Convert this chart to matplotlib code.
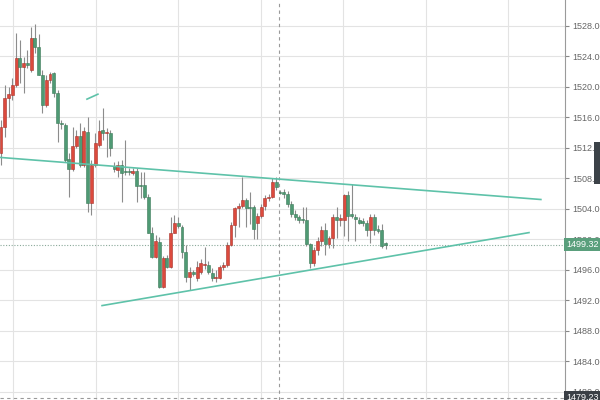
import numpy as np
import matplotlib
matplotlib.use("Agg")
import matplotlib.pyplot as plt
from matplotlib.patches import Rectangle
import matplotlib.transforms as mtransforms

plt.rcParams["font.family"] = ["Liberation Sans", "DejaVu Sans"]

# OHLC per candle
opens = [1511.3, 1514.8, 1518.6, 1519.0, 1520.3, 1523.8, 1522.6, 1523.1, 1522.2, 1526.4,
         1525.2, 1521.6, 1517.6, 1520.9, 1521.8, 1519.2, 1515.3, 1515.0, 1510.5, 1509.2,
         1512.3, 1513.6, 1509.8, 1514.1, 1504.8, 1509.8, 1512.4, 1514.4, 1514.0, 1514.0,
         1509.6, 1509.1, 1509.8, 1509.0, 1508.9, 1508.7, 1509.0, 1507.2, 1507.1, 1505.6,
         1500.9, 1497.7, 1499.7, 1493.8, 1497.6, 1496.4, 1500.9, 1502.2, 1501.7, 1498.4,
         1495.1, 1495.7, 1494.9, 1495.7, 1496.6, 1496.6, 1495.6, 1494.9, 1495.0, 1496.4,
         1496.6, 1499.3, 1501.9, 1504.1, 1504.4, 1505.2, 1504.3, 1504.2, 1502.2, 1503.1,
         1504.4, 1505.4, 1505.6, 1507.6, 1506.2, 1506.2, 1506.0, 1504.7, 1503.4, 1502.9,
         1502.7, 1502.5, 1499.4, 1496.9, 1498.6, 1499.8, 1501.2, 1499.4, 1500.2, 1502.9,
         1502.5, 1502.5, 1505.8, 1503.3, 1503.0, 1502.6, 1502.4, 1502.2, 1501.2, 1503.0,
         1501.4, 1501.2, 1499.5]
highs = [1515.7, 1520.3, 1520.0, 1521.2, 1527.1, 1526.2, 1523.9, 1524.9, 1527.9, 1528.2,
         1527.0, 1522.2, 1521.6, 1522.0, 1522.0, 1519.6, 1515.6, 1515.3, 1511.3, 1514.8,
         1514.4, 1515.3, 1514.8, 1516.0, 1510.4, 1514.0, 1515.7, 1517.2, 1514.6, 1514.4,
         1510.2, 1510.3, 1510.4, 1513.0, 1509.4, 1509.4, 1509.4, 1508.8, 1508.8, 1505.9,
         1501.6, 1500.6, 1500.3, 1497.8, 1498.0, 1503.0, 1503.2, 1503.0, 1501.9, 1499.3,
         1496.4, 1496.0, 1497.2, 1497.5, 1499.0, 1497.2, 1496.3, 1496.0, 1496.6, 1497.0,
         1499.7, 1502.3, 1504.3, 1504.8, 1508.2, 1505.5, 1506.2, 1504.5, 1503.5, 1504.6,
         1505.8, 1506.0, 1508.1, 1508.2, 1506.5, 1506.6, 1506.4, 1505.0, 1503.8, 1503.2,
         1504.2, 1504.2, 1499.6, 1499.0, 1500.3, 1501.8, 1502.2, 1500.4, 1503.4, 1504.2,
         1503.4, 1506.0, 1506.3, 1507.3, 1503.4, 1503.0, 1502.8, 1502.6, 1503.4, 1503.4,
         1501.9, 1502.0, 1499.7]
lows = [1509.8, 1513.4, 1516.0, 1518.3, 1520.0, 1520.5, 1519.2, 1522.5, 1522.0, 1524.5,
        1521.6, 1516.6, 1517.4, 1520.5, 1518.7, 1512.8, 1514.5, 1510.2, 1505.6, 1509.0,
        1512.0, 1509.5, 1509.5, 1503.6, 1503.2, 1509.5, 1512.1, 1513.0, 1510.8, 1511.0,
        1508.9, 1508.2, 1504.9, 1508.5, 1508.4, 1508.5, 1504.9, 1505.5, 1505.3, 1500.9,
        1497.6, 1497.6, 1493.6, 1493.6, 1496.2, 1496.2, 1500.9, 1501.5, 1497.6, 1494.4,
        1493.4, 1495.2, 1494.6, 1495.5, 1496.1, 1495.5, 1494.6, 1494.4, 1494.8, 1496.0,
        1496.4, 1499.1, 1500.3, 1501.6, 1504.1, 1501.6, 1502.0, 1500.1, 1500.1, 1502.8,
        1503.9, 1505.0, 1505.4, 1506.5, 1505.9, 1505.5, 1504.3, 1503.0, 1502.5, 1502.2,
        1502.2, 1499.2, 1496.3, 1496.5, 1498.0, 1499.2, 1497.9, 1498.9, 1498.9, 1500.2,
        1501.8, 1500.5, 1499.8, 1502.8, 1499.8, 1502.0, 1501.8, 1500.5, 1499.6, 1500.6,
        1500.8, 1498.9, 1498.7]
closes = [1514.8, 1518.6, 1519.1, 1520.3, 1523.8, 1522.6, 1523.1, 1522.9, 1526.4, 1525.2,
          1521.6, 1517.6, 1520.9, 1521.7, 1519.2, 1515.3, 1515.1, 1510.4, 1509.2, 1512.3,
          1513.6, 1509.8, 1514.2, 1504.8, 1509.8, 1512.7, 1514.2, 1514.0, 1514.1, 1512.0,
          1509.2, 1509.8, 1508.7, 1508.9, 1508.8, 1509.0, 1507.0, 1507.0, 1505.6, 1500.9,
          1497.7, 1499.8, 1493.8, 1497.6, 1496.4, 1500.9, 1502.2, 1501.8, 1498.4, 1495.1,
          1495.7, 1495.5, 1496.4, 1496.9, 1496.8, 1495.7, 1494.9, 1495.1, 1496.4, 1496.7,
          1499.3, 1501.9, 1504.1, 1504.4, 1505.2, 1504.1, 1504.1, 1501.4, 1503.1, 1504.3,
          1505.4, 1505.6, 1507.6, 1506.9, 1506.1, 1505.9, 1504.7, 1503.4, 1503.0, 1502.6,
          1502.5, 1499.4, 1496.9, 1498.6, 1499.8, 1501.2, 1499.4, 1500.2, 1502.9, 1502.6,
          1502.8, 1505.8, 1503.1, 1503.1, 1502.7, 1502.2, 1502.2, 1501.2, 1503.0, 1501.3,
          1501.1, 1499.2, 1499.32]

# trend lines (candle index, price)
upper_x = [-0.3, 143.2]
upper_y = [1510.76, 1505.24]
lower_x = [26.8, 140.05]
lower_y = [1491.33, 1500.9]
stub_x = [22.8, 25.7]
stub_y = [1518.4, 1519.05]

last_price = 1499.32
cross_price = 1479.23
cross_idx = 73.7

yticks = list(range(1480, 1529, 4))
xgrid = [3.2 + 21.9 * k for k in range(7)]

up_col = "#dc4a3d"
down_col = "#4f9a74"
line_col = "#5ec2a9"

fig = plt.figure(figsize=(6, 4), dpi=100)
ax = fig.add_axes([0, 0, 565 / 600, 1])

idx = np.arange(len(opens))
o = np.array(opens)
c = np.array(closes)
h = np.array(highs)
l = np.array(lows)
up = c >= o
cols = np.where(up, up_col, down_col)
edge = np.where(up, "#a8322a", "#3b7a58")

ax.vlines(idx, l, h, color="#8c8c8c", linewidth=0.8, zorder=2)
bottom = np.minimum(o, c)
height = np.maximum(np.abs(c - o), 0.12)
ax.bar(idx, height, bottom=bottom, width=0.78, color=cols, edgecolor=edge,
       linewidth=0.4, zorder=3)

ax.plot(upper_x, upper_y, color=line_col, linewidth=1.2, zorder=4)
ax.plot(lower_x, lower_y, color=line_col, linewidth=1.2, zorder=4)
ax.plot(stub_x, stub_y, color=line_col, linewidth=1.2, zorder=4)

# current price dotted line and crosshair
ax.axhline(last_price, color="#8aa99a", linewidth=0.8, linestyle=(0, (1, 1.5)), zorder=1)
ax.axvline(cross_idx, color="#9a9a9a", linewidth=0.8, linestyle=(0, (3, 3)), zorder=1)
ax.axhline(cross_price, color="#9a9a9a", linewidth=0.8, linestyle=(0, (3, 3)), zorder=1)

ax.set_xlim(-0.27, 149.6)
ax.set_ylim(1478.95, 1531.4)
ax.set_xticks(xgrid)
ax.set_yticks(yticks)
ax.grid(True, color="#e3e3e3", linewidth=0.8, zorder=0)
ax.set_axisbelow(True)

ax.yaxis.tick_right()
ax.tick_params(axis="y", length=3, color="#888888", labelsize=6.5, labelcolor="#666666", pad=2)
ax.tick_params(axis="x", length=0, labelbottom=False)
ax.set_yticklabels(["%.2f" % t for t in yticks])
for s in ["top", "left", "bottom"]:
    ax.spines[s].set_visible(False)
ax.spines["right"].set_color("#9a9a9a")

trans = mtransforms.blended_transform_factory(ax.transAxes, ax.transData)
ax.text(1.002, last_price, "%.2f" % last_price, transform=trans, fontsize=6.5,
        color="white", va="center", ha="left", clip_on=False, zorder=10,
        bbox=dict(boxstyle="square,pad=0.25", facecolor="#5a9f7c", edgecolor="none"))
ax.text(1.002, cross_price, "%.2f" % cross_price, transform=trans, fontsize=6.5,
        color="white", va="center", ha="left", clip_on=False, zorder=10,
        bbox=dict(boxstyle="square,pad=0.25", facecolor="#3a3f45", edgecolor="none"))

fig.patches.append(Rectangle((594 / 600, 1 - 184 / 400), 6 / 600, 42 / 400,
                             transform=fig.transFigure, facecolor="#3c4248",
                             edgecolor="none", zorder=20))

fig.savefig("out.png", dpi=100)
